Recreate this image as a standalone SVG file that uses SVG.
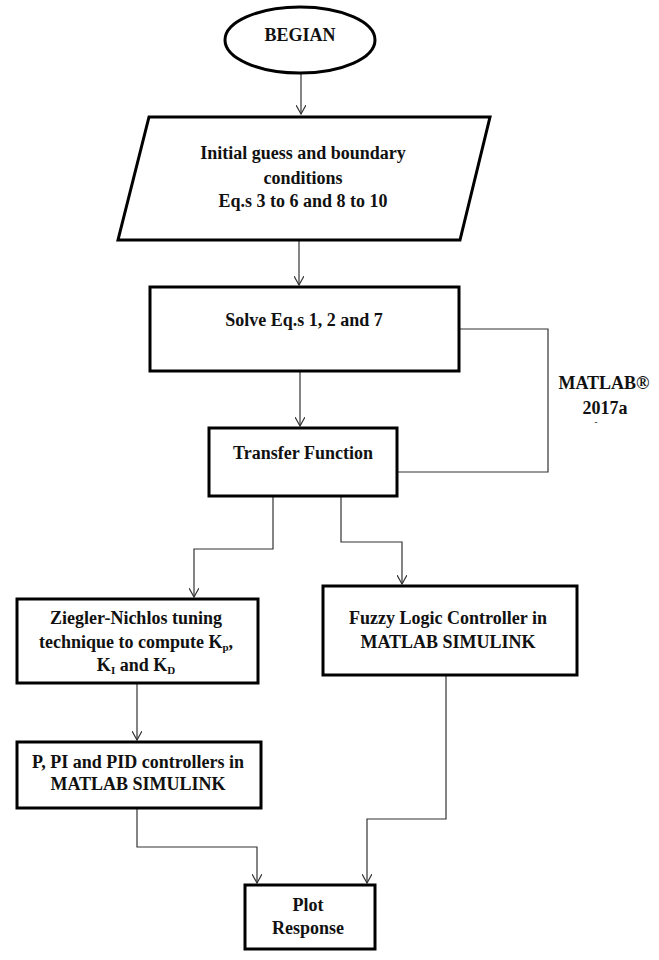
<svg xmlns="http://www.w3.org/2000/svg" width="659" height="960" viewBox="0 0 659 960">
<style>
text{font-family:"Liberation Serif","DejaVu Serif",serif;font-weight:bold;font-size:18px;fill:#111;text-anchor:middle}
.sub{font-size:11px}
.shape{fill:#fff;stroke:#000;stroke-width:3}
.conn{fill:none;stroke:#333;stroke-width:1.2}
</style>
<defs>
<marker id="arr" viewBox="0 0 10 10" refX="9" refY="5" markerWidth="10" markerHeight="10" markerUnits="userSpaceOnUse" orient="auto">
<path d="M0,0 L9,5 L0,10" fill="none" stroke="#333" stroke-width="1.2"/>
</marker>
</defs>
<rect width="659" height="960" fill="#fff"/>
<g id="connectors">
<line class="conn" x1="301" y1="73" x2="301" y2="114" marker-end="url(#arr)"/>
<line class="conn" x1="299" y1="241" x2="299" y2="285" marker-end="url(#arr)"/>
<line class="conn" x1="300" y1="371" x2="300" y2="426" marker-end="url(#arr)"/>
<polyline class="conn" points="459,329 548,329 548,472 398,472"/>
<polyline class="conn" points="273,496 273,549 194,549 194,597" marker-end="url(#arr)"/>
<polyline class="conn" points="341,496 341,542 402,542 402,584" marker-end="url(#arr)"/>
<line class="conn" x1="137" y1="683" x2="137" y2="740" marker-end="url(#arr)"/>
<polyline class="conn" points="137,808 137,847 257,847 257,883" marker-end="url(#arr)"/>
<polyline class="conn" points="446,675 446,819 367,819 367,883" marker-end="url(#arr)"/>
</g>
<g id="begin">
<ellipse class="shape" cx="300" cy="40" rx="75" ry="33"/>
<text x="300" y="41">BEGIAN</text>
</g>
<g id="initial">
<polygon class="shape" points="149,117 490,117 460,240 118,240"/>
<text x="303" y="159">Initial guess and boundary</text>
<text x="303" y="184">conditions</text>
<text x="303" y="207">Eq.s 3 to 6 and 8 to 10</text>
</g>
<g id="solve">
<rect class="shape" x="150" y="287" width="309" height="84"/>
<text x="304" y="326">Solve Eq.s 1, 2 and 7</text>
</g>
<g id="matlab">
<text x="604" y="389">MATLAB®</text>
<text x="605" y="414">2017a</text>
<text x="596" y="425" style="font-size:9px">-</text>
</g>
<g id="transfer">
<rect class="shape" x="209" y="428" width="188" height="68"/>
<text x="303" y="459">Transfer Function</text>
</g>
<g id="ziegler">
<rect class="shape" x="17" y="599" width="241" height="84"/>
<text x="136" y="624">Ziegler-Nichlos tuning</text>
<text x="136" y="648">technique to compute K<tspan class="sub" dy="3">p</tspan><tspan dy="-3">,</tspan></text>
<text x="136" y="671">K<tspan class="sub" dy="3">I</tspan><tspan dy="-3"> and K</tspan><tspan class="sub" dy="3">D</tspan></text>
</g>
<g id="fuzzy">
<rect class="shape" x="323" y="586" width="254" height="89"/>
<text x="448" y="624">Fuzzy Logic Controller in</text>
<text x="448" y="648">MATLAB SIMULINK</text>
</g>
<g id="pid">
<rect class="shape" x="17" y="742" width="244" height="66"/>
<text x="138" y="768">P, PI and PID controllers in</text>
<text x="138" y="790">MATLAB SIMULINK</text>
</g>
<g id="plot">
<rect class="shape" x="245" y="885" width="130" height="64"/>
<text x="308" y="911">Plot</text>
<text x="308" y="934">Response</text>
</g>
</svg>
